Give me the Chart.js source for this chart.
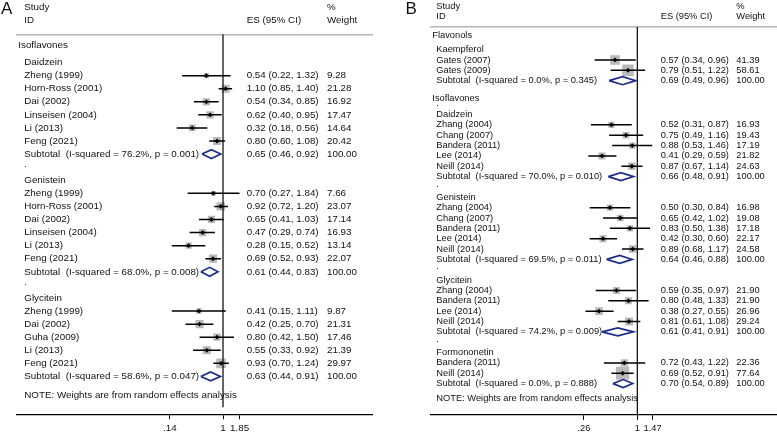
<!DOCTYPE html>
<html>
<head>
<meta charset="utf-8">
<title>Forest plots</title>
<script src="https://cdn.jsdelivr.net/npm/chart.js@4.4.1/dist/chart.umd.min.js"></script>
<style>
  html, body { margin: 0; padding: 0; background: #fff; overflow: hidden; }
  #wrap { position: relative; width: 777px; height: 436px; }
  canvas { position: absolute; top: 0; }
  #panelA { left: 0; }
  #panelB { left: 388px; }
</style>
</head>
<body>
<div id="wrap">
  <canvas id="panelA" width="388" height="437"></canvas>
  <canvas id="panelB" width="389" height="437"></canvas>
</div>
<script>
// ---- panel A: isoflavones ----
const aClasses = ['Isoflavones'];
const aGroups = ['Daidzein', 'Genistein', 'Glycitein'];
const aGroupClass = [0, 0, 0];
const aStudies = [
  ['Zheng (1999)', 'Horn-Ross (2001)', 'Dai (2002)', 'Linseisen (2004)', 'Li (2013)', 'Feng (2021)'],
  ['Zheng (1999)', 'Horn-Ross (2001)', 'Dai (2002)', 'Linseisen (2004)', 'Li (2013)', 'Feng (2021)'],
  ['Zheng (1999)', 'Dai (2002)', 'Guha (2009)', 'Li (2013)', 'Feng (2021)']
];
const aEs = [
  [0.54, 1.10, 0.54, 0.62, 0.32, 0.80],
  [0.70, 0.92, 0.65, 0.47, 0.28, 0.69],
  [0.41, 0.42, 0.80, 0.55, 0.93]
];
const aLow = [
  [0.22, 0.85, 0.34, 0.40, 0.18, 0.60],
  [0.27, 0.72, 0.41, 0.29, 0.15, 0.52],
  [0.15, 0.25, 0.42, 0.33, 0.70]
];
const aHigh = [
  [1.32, 1.40, 0.85, 0.95, 0.56, 1.08],
  [1.84, 1.20, 1.03, 0.74, 0.52, 0.93],
  [1.11, 0.70, 1.50, 0.92, 1.24]
];
const aWeight = [
  [9.28, 21.28, 16.92, 17.47, 14.64, 20.42],
  [7.66, 23.07, 17.14, 16.93, 13.14, 22.07],
  [9.87, 21.31, 17.46, 21.39, 29.97]
];
const aSubEs = [0.65, 0.61, 0.63];
const aSubLow = [0.46, 0.44, 0.44];
const aSubHigh = [0.92, 0.83, 0.91];
const aI2 = ['76.2%', '68.0%', '58.6%'];
const aP = ['0.001', '0.008', '0.047'];
const aTicks = [0.14, 1, 1.85];
const aTickLabels = ['.14', '1', '1.85'];

// ---- panel B: flavonols and isoflavones ----
const bClasses = ['Flavonols', 'Isoflavones'];
const bGroups = ['Kaempferol', 'Daidzein', 'Genistein', 'Glycitein', 'Formononetin'];
const bGroupClass = [0, 1, 1, 1, 1];
const bStudies = [
  ['Gates (2007)', 'Gates (2009)'],
  ['Zhang (2004)', 'Chang (2007)', 'Bandera (2011)', 'Lee (2014)', 'Neill (2014)'],
  ['Zhang (2004)', 'Chang (2007)', 'Bandera (2011)', 'Lee (2014)', 'Neill (2014)'],
  ['Zhang (2004)', 'Bandera (2011)', 'Lee (2014)', 'Neill (2014)'],
  ['Bandera (2011)', 'Neill (2014)']
];
const bEs = [
  [0.57, 0.79],
  [0.52, 0.75, 0.88, 0.41, 0.87],
  [0.50, 0.65, 0.83, 0.42, 0.89],
  [0.59, 0.80, 0.38, 0.81],
  [0.72, 0.69]
];
const bLow = [
  [0.34, 0.51],
  [0.31, 0.49, 0.53, 0.29, 0.67],
  [0.30, 0.42, 0.50, 0.30, 0.68],
  [0.35, 0.48, 0.27, 0.61],
  [0.43, 0.52]
];
const bHigh = [
  [0.96, 1.22],
  [0.87, 1.16, 1.46, 0.59, 1.14],
  [0.84, 1.02, 1.38, 0.60, 1.17],
  [0.97, 1.33, 0.55, 1.08],
  [1.22, 0.91]
];
const bWeight = [
  [41.39, 58.61],
  [16.93, 19.43, 17.19, 21.82, 24.63],
  [16.98, 19.08, 17.18, 22.17, 24.58],
  [21.90, 21.90, 26.96, 29.24],
  [22.36, 77.64]
];
const bSubEs = [0.69, 0.66, 0.64, 0.61, 0.70];
const bSubLow = [0.49, 0.48, 0.46, 0.41, 0.54];
const bSubHigh = [0.96, 0.91, 0.88, 0.91, 0.89];
const bI2 = ['0.0%', '70.0%', '69.5%', '74.2%', '0.0%'];
const bP = ['0.345', '0.010', '0.011', '0.009', '0.888'];
const bTicks = [0.26, 1, 1.47];
const bTickLabels = ['.26', '1', '1.47'];

const FONT = "'Liberation Sans', Arial, Helvetica, sans-serif";
const NAVY = '#1f2d8a';
const BOX = '#b9b9b9';

Chart.defaults.font.family = FONT;
Chart.defaults.color = '#111';

function buildRows(p) {
  const rows = [];
  let r = 0;
  p.groups.forEach((group, g) => {
    const newClass = g === 0 || p.groupClass[g] !== p.groupClass[g - 1];
    if (newClass) {
      if (g > 0) r += 1.7;
      rows.push({ kind: 'class', text: p.classes[p.groupClass[g]], r });
      if (g > 0) {
        rows.push({ kind: 'dot', text: '.', r: r + 0.78 });
        r += 1.57;
      } else {
        r += 1.35;
      }
    } else {
      r += 1;
      rows.push({ kind: 'dot', text: '.', r });
      r += 1;
    }
    rows.push({ kind: 'group', text: group, r });
    p.studies[g].forEach((name, i) => {
      r += 1;
      rows.push({
        kind: 'study', text: name, r,
        es: p.es[g][i], lo: p.low[g][i], hi: p.high[g][i], w: p.weight[g][i]
      });
    });
    r += 1;
    rows.push({
      kind: 'sub', text: 'Subtotal  (I-squared = ' + p.i2[g] + ', p = ' + p.pval[g] + ')', r,
      es: p.subEs[g], lo: p.subLow[g], hi: p.subHigh[g], w: 100
    });
  });
  r += 1.45;
  rows.push({ kind: 'note', text: 'NOTE: Weights are from random effects analysis', r });
  return rows;
}

function esText(d) {
  return d.es.toFixed(2) + ' (' + d.lo.toFixed(2) + ', ' + d.hi.toFixed(2) + ')';
}

function makeTextPlugin(p, rows) {
  return {
    id: 'forestText',
    beforeDatasetsDraw(chart) {
      const ctx = chart.ctx;
      const y = chart.scales.y;
      ctx.save();
      ctx.fillStyle = '#111';
      ctx.textBaseline = 'middle';
      ctx.textAlign = 'left';
      ctx.font = '17px ' + FONT;
      ctx.fillText(p.letter, p.pos.letter, p.head.letterY);
      ctx.font = p.font + 'px ' + FONT;
      ctx.fillText('Study', p.pos.label, p.head.y1);
      ctx.fillText('ID', p.pos.label, p.head.y2);
      ctx.fillText('ES (95% CI)', p.pos.es, p.head.y2);
      ctx.fillText('%', p.pos.weight, p.head.y1);
      ctx.fillText('Weight', p.pos.weight, p.head.y2);
      rows.forEach(d => {
        const py = y.getPixelForValue(d.r);
        const x = d.kind === 'class' ? p.pos.classLabel : p.pos.label;
        ctx.fillText(d.text, x, d.kind === 'dot' ? py - 3 : py);
        if (d.kind === 'study' || d.kind === 'sub') {
          ctx.fillText(esText(d), p.pos.es, py);
          ctx.fillText(d.w.toFixed(2), p.pos.weight, py);
        }
      });
      ctx.restore();
    }
  };
}

function drawForest(p) {
  const rows = buildRows(p);
  const studyRows = rows.filter(d => d.kind === 'study');
  const subRows = rows.filter(d => d.kind === 'sub');

  const boxData = studyRows.map(d => ({ x: d.es, y: d.r, w: d.w }));
  const estData = studyRows.map(d => ({ x: d.es, y: d.r }));
  const ciData = [];
  studyRows.forEach(d => {
    ciData.push({ x: d.lo, y: d.r }, { x: d.hi, y: d.r }, { x: null, y: null });
  });
  const diamondData = [];
  subRows.forEach(d => {
    const h = p.diamondHalf;
    diamondData.push(
      { x: d.lo, y: d.r }, { x: d.es, y: d.r - h }, { x: d.hi, y: d.r },
      { x: d.es, y: d.r + h }, { x: d.lo, y: d.r }, { x: null, y: null }
    );
  });
  const nullData = [{ x: 1, y: p.yMin }, { x: 1, y: p.nullEnd }];

  new Chart(document.getElementById(p.canvas), {
    type: 'scatter',
    data: {
      datasets: [
        {
          data: estData, pointStyle: 'rectRot', pointRadius: 2.4,
          backgroundColor: '#000', borderWidth: 0, order: 1
        },
        {
          data: diamondData, showLine: true, spanGaps: false, pointRadius: 0,
          borderColor: NAVY, borderWidth: 1.7, order: 2
        },
        {
          data: ciData, showLine: true, spanGaps: false, pointRadius: 0,
          borderColor: '#000', borderWidth: 1.5, order: 3
        },
        {
          data: nullData, showLine: true, pointRadius: 0,
          borderColor: '#000', borderWidth: 1.2, order: 4
        },
        {
          data: boxData, pointStyle: 'rect',
          pointRadius: c => (c.raw ? p.boxScale * Math.sqrt(c.raw.w) / (2 * Math.SQRT1_2) : 0),
          backgroundColor: BOX, borderWidth: 0, order: 5
        }
      ]
    },
    options: {
      responsive: false,
      animation: false,
      events: [],
      layout: { autoPadding: false, padding: p.pad },
      plugins: { legend: { display: false }, tooltip: { enabled: false } },
      scales: {
        x: {
          type: 'logarithmic',
          position: 'bottom',
          min: p.xMin,
          max: p.xMax,
          afterBuildTicks: scale => { scale.ticks = p.ticks.map(v => ({ value: v })); },
          ticks: {
            autoSkip: false, maxRotation: 0, minRotation: 0, padding: 3,
            color: '#111', font: { size: p.font },
            callback: (value, index) => p.tickLabels[index]
          },
          grid: { display: true, drawOnChartArea: false, drawTicks: true, tickLength: 5, color: '#000' },
          border: { display: true, color: '#000', width: 1.2 }
        },
        x2: {
          type: 'linear',
          position: 'top',
          ticks: { display: false },
          grid: { display: false, drawTicks: false },
          border: { display: true, color: '#b5b5b5', width: 1.5 }
        },
        y: {
          type: 'linear',
          display: false,
          reverse: true,
          min: p.yMin,
          max: p.yMax
        }
      }
    },
    plugins: [makeTextPlugin(p, rows)]
  });
}

drawForest({
  canvas: 'panelA', letter: 'A', font: 9.8,
  classes: aClasses, groups: aGroups, groupClass: aGroupClass, studies: aStudies,
  es: aEs, low: aLow, high: aHigh, weight: aWeight,
  subEs: aSubEs, subLow: aSubLow, subHigh: aSubHigh, i2: aI2, pval: aP,
  ticks: aTicks, tickLabels: aTickLabels,
  xMin: 0.000486, xMax: 249, yMin: -0.81, yMax: 28.24, nullEnd: 27.7,
  pad: { left: 17, right: 16, top: 34.3, bottom: 0 },
  boxScale: 1.75, diamondHalf: 0.34,
  pos: { letter: 1, classLabel: 18.3, label: 24.3, es: 246.7, weight: 327 },
  head: { y1: 7.3, y2: 20.7, letterY: 9.5 }
});

drawForest({
  canvas: 'panelB', letter: 'B', font: 9.3,
  classes: bClasses, groups: bGroups, groupClass: bGroupClass, studies: bStudies,
  es: bEs, low: bLow, high: bHigh, weight: bWeight,
  subEs: bSubEs, subLow: bSubLow, subHigh: bSubHigh, i2: bI2, pval: bP,
  ticks: bTicks, tickLabels: bTickLabels,
  xMin: 0.00546, xMax: 34.05, yMin: -0.865, yMax: 36.64, nullEnd: 36.64,
  pad: { left: 43, right: 0, top: 26.7, bottom: 0 },
  boxScale: 1.5, diamondHalf: 0.39,
  pos: { letter: 17.5, classLabel: 44.3, label: 48.3, es: 272.7, weight: 348.3 },
  head: { y1: 6.7, y2: 16.7, letterY: 9.5 }
});
</script>
</body>
</html>
